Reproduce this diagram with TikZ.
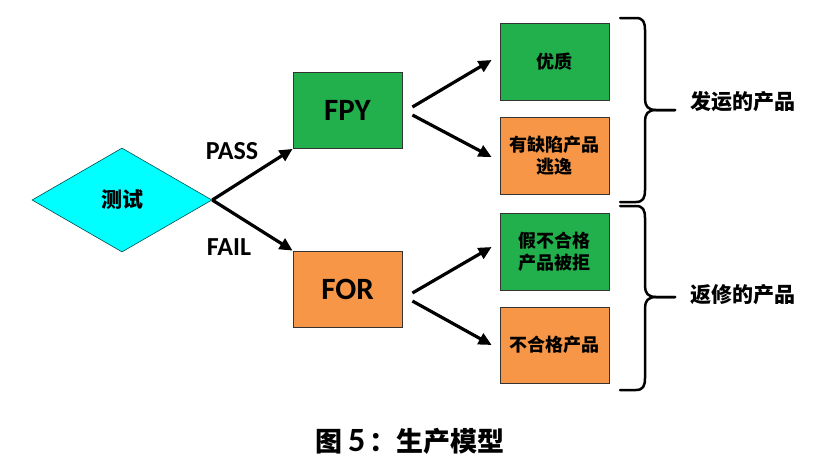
\documentclass[tikz,border=0pt]{standalone}
\usepackage{fontspec}
\usetikzlibrary{shapes.geometric,arrows.meta}
\newfontfamily\cjk{Noto Sans CJK SC}
\newfontfamily\lat{Carlito}
\definecolor{boxgreen}{HTML}{22B04C}
\definecolor{boxorange}{HTML}{F79646}
\definecolor{dcyan}{HTML}{00FFFF}
\tikzset{
  gbox/.style={draw=black!80, line width=0.8pt, fill=boxgreen, minimum width=109pt, minimum height=77pt, inner sep=0pt, align=center, font=\cjk\bfseries\fontsize{18}{22}\selectfont},
  obox/.style={gbox, fill=boxorange},
  bigbox/.style={draw=black!80, line width=0.8pt, minimum width=109pt, minimum height=76pt, inner sep=0pt, font=\lat\bfseries\fontsize{31}{31}\selectfont},
  arr/.style={line width=3.2pt, -{Triangle[length=13pt,width=12pt]}},
  brc/.style={line width=2.5pt, line cap=round, line join=round},
  lbl/.style={font=\lat\bfseries\fontsize{26}{26}\selectfont, inner sep=0pt},
  side/.style={font=\cjk\bfseries\fontsize{21}{21}\selectfont, inner sep=0pt}
}
\begin{document}
\begin{tikzpicture}[x=1pt,y=-1pt]
\useasboundingbox (0,0) rectangle (834,467);
% diamond
\node[diamond, aspect=1.73, minimum width=180pt, minimum height=104pt, inner sep=0pt,
      draw=teal!60!black, line width=0.6pt, fill=dcyan,
      font=\cjk\bfseries\fontsize{21}{21}\selectfont] (test) at (122,200) {测试};
% middle boxes
\node[bigbox, fill=boxgreen] (fpy) at (347.5,110.5) {FPY};
\node[bigbox, fill=boxorange] (for) at (347.5,289) {FOR};
% right boxes
\node[gbox] (b1) at (554.5,61.5) {优质};
\node[obox] (b2) at (554.5,156) {有缺陷产品\\逃逸};
\node[gbox] (b3) at (554.5,251.5) {假不合格\\产品被拒};
\node[obox, minimum height=76pt] (b4) at (554.5,345) {不合格产品};
% labels
\node[lbl] (pass) at (232,151) {PASS};
\node[lbl] (fail) at (229,247) {FAIL};
% arrows
\draw[arr] (test.east) -- (fpy.south west);
\draw[arr] (test.east) -- (for.north west);
\draw[arr] ([xshift=10pt,yshift=3.5pt]fpy.east) -- ([xshift=-8pt,yshift=1.5pt]b1.west);
\draw[arr] ([xshift=10pt,yshift=-4.5pt]fpy.east) -- ([xshift=-8pt,yshift=-1pt]b2.west);
\draw[arr] ([xshift=10pt,yshift=-4pt]for.east) -- ([xshift=-8pt,yshift=4.5pt]b3.west);
\draw[arr] ([xshift=10pt,yshift=-12pt]for.east) -- ([xshift=-8pt]b4.west);
% braces
\coordinate (t1) at (620,18);
\coordinate (m1) at (675,110);
\coordinate (e1) at (620,202);
\draw[brc] (t1) -- (636,18) .. controls (643,18) and (645,22) .. (645,30) -- (645,99)
  .. controls (645,106) and (648,110) .. (656,110) -- (m1);
\draw[brc] (m1) -- (656,110) .. controls (648,110) and (645,114) .. (645,121) -- (645,190)
  .. controls (645,198) and (643,202) .. (636,202) -- (e1);
\coordinate (t2) at (620,206);
\coordinate (m2) at (675,297);
\coordinate (e2) at (620,390);
\draw[brc] (t2) -- (636,206) .. controls (643,206) and (645,210) .. (645,218) -- (645,286)
  .. controls (645,293) and (648,297) .. (656,297) -- (m2);
\draw[brc] (m2) -- (656,297) .. controls (648,297) and (645,301) .. (645,308) -- (645,378)
  .. controls (645,386) and (643,390) .. (636,390) -- (e2);
\node[side] (ship) at (743,102) {发运的产品};
\node[side] (rework) at (743,295) {返修的产品};
% caption
\node[font=\cjk\bfseries\fontsize{27}{27}\selectfont, inner sep=0pt] (cap) at (410,441) {图 {\lat\fontsize{34}{34}\selectfont 5}\,：生产模型};
\end{tikzpicture}
\end{document}
